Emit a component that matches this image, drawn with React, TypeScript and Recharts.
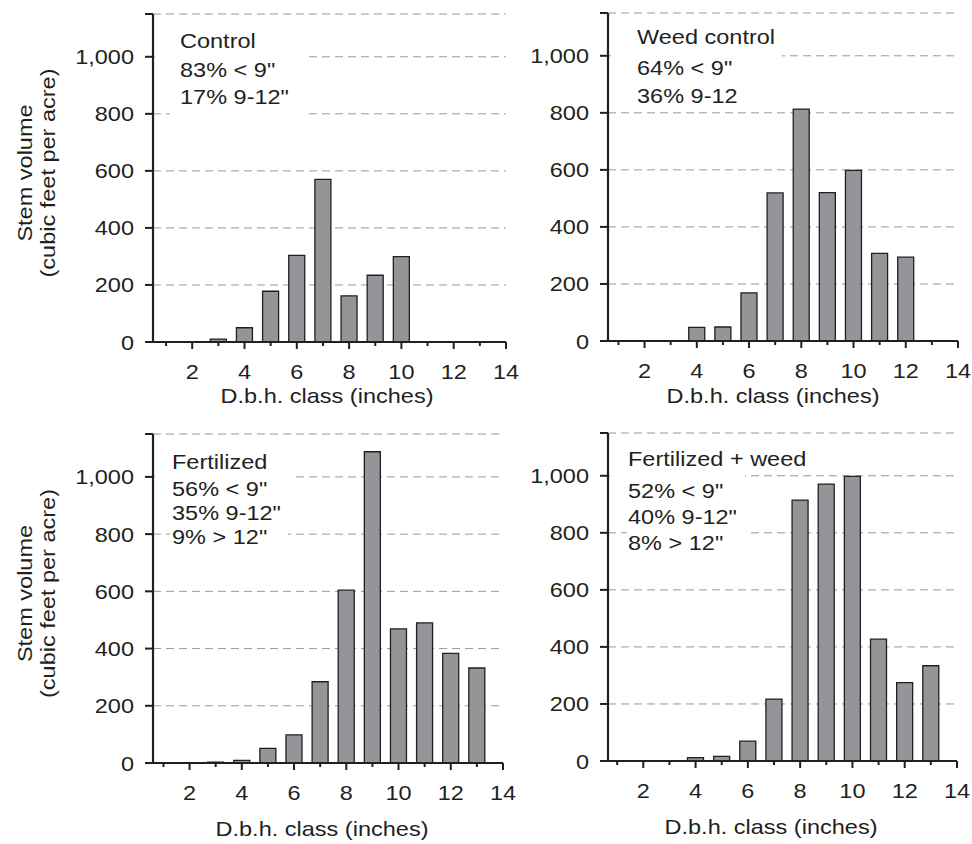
import React from 'react';
import { BarChart, Bar, XAxis, YAxis, CartesianGrid } from 'recharts';

// ---------- data ----------
const dbhClasses = [1, 2, 3, 4, 5, 6, 7, 8, 9, 10, 11, 12, 13];
const controlVolume = [0, 0, 10, 50, 178, 304, 570, 162, 234, 299, 0, 0, 0];
const weedControlVolume = [0, 0, 0, 48, 49, 169, 519, 813, 520, 598, 307, 294, 0];
const fertilizedVolume = [0, 0, 3, 9, 51, 98, 284, 604, 1088, 469, 490, 383, 332];
const fertWeedVolume = [0, 0, 0, 12, 16, 70, 217, 915, 971, 998, 427, 275, 334];

const xTicks = [1, 2, 3, 4, 5, 6, 7, 8, 9, 10, 11, 12, 13, 14];
const xTickLabels = ['', '2', '', '4', '', '6', '', '8', '', '10', '', '12', '', '14'];
const yTicks = [0, 200, 400, 600, 800, 1000, 1150];
const yTickLabels = ['0', '200', '400', '600', '800', '1,000', ''];

const panelNotes = [
  ['Control', '83% < 9"', '17% 9-12"'],
  ['Weed control', '64% < 9"', '36% 9-12'],
  ['Fertilized', '56% < 9"', '35% 9-12"', '9% > 12"'],
  ['Fertilized + weed', '52% < 9"', '40% 9-12"', '8% > 12"'],
];
const xAxisTitle = 'D.b.h. class (inches)';
const yAxisTitle = ['Stem volume', '(cubic feet per acre)'];

// ---------- style ----------
const INK = '#231f20';
const BAR_FILL = '#939598';
const GRID = '#999999';
const FONT = '"Liberation Sans", Arial, Helvetica, sans-serif';
const FS = 21;
const SX = 1.12;

// ---------- layout ----------
type Geo = {
  bx: number; by: number; bw: number; bh: number;
  axisX: number; plotTop: number; plotBottom: number; plotRight: number; xMin: number;
  noteX: number; noteBaselines: number[];
  boxes: { x: number; y: number; w: number; h: number }[];
  titleX: number; titleY: number;
  yTitle: boolean;
};

const geos: Geo[] = [
  {
    bx: 0, by: 0, bw: 520, bh: 422,
    axisX: 153, plotTop: 14, plotBottom: 342, plotRight: 506, xMin: 0.5,
    noteX: 180, noteBaselines: [48, 77, 104],
    boxes: [{ x: 155, y: 22, w: 152, h: 48 }, { x: 170, y: 70, w: 137, h: 52 }],
    titleX: 327, titleY: 403, yTitle: true,
  },
  {
    bx: 520, by: 0, bw: 452, bh: 422,
    axisX: 608, plotTop: 13, plotBottom: 341, plotRight: 958, xMin: 0.6,
    noteX: 637, noteBaselines: [44, 75, 103],
    boxes: [{ x: 611, y: 22, w: 171, h: 84 }],
    titleX: 773, titleY: 403, yTitle: false,
  },
  {
    bx: 0, by: 422, bw: 520, bh: 422,
    axisX: 153, plotTop: 434, plotBottom: 763, plotRight: 503, xMin: 0.6,
    noteX: 172, noteBaselines: [469, 496, 520, 544],
    boxes: [{ x: 155, y: 442, w: 137, h: 48 }, { x: 170, y: 490, w: 118, h: 60 }],
    titleX: 322, titleY: 836, yTitle: true,
  },
  {
    bx: 520, by: 422, bw: 452, bh: 422,
    axisX: 608, plotTop: 433, plotBottom: 761, plotRight: 957, xMin: 0.65,
    noteX: 628, noteBaselines: [466, 498, 524, 550],
    boxes: [{ x: 610, y: 441, w: 135, h: 49 }, { x: 627, y: 490, w: 119, h: 66 }],
    titleX: 771, titleY: 834, yTitle: false,
  },
];

const seriesList = [controlVolume, weedControlVolume, fertilizedVolume, fertWeedVolume];

const XTick = (props: any) => {
  const { x, y, payload } = props;
  const v = payload.value as number;
  const idx = xTicks.indexOf(v);
  const label = xTickLabels[idx] ?? '';
  const major = v % 2 === 0;
  return (
    <g>
      <line x1={x} x2={x} y1={y} y2={y + (major ? 7 : 4)} stroke={INK} strokeWidth={2} />
      {label !== '' && (
        <text
          transform={`translate(${x} ${y + 37}) scale(${SX} 1)`}
          textAnchor="middle"
          fontSize={FS}
          fontFamily={FONT}
          fill={INK}
        >
          {label}
        </text>
      )}
    </g>
  );
};

const YTick = (props: any) => {
  const { x, y, payload } = props;
  const v = payload.value as number;
  const idx = yTicks.indexOf(v);
  const label = yTickLabels[idx] ?? '';
  return (
    <g>
      <line x1={x - 8} x2={x} y1={y} y2={y} stroke={INK} strokeWidth={2} />
      {label !== '' && (
        <text
          transform={`translate(${x - 19} ${y + 7.5}) scale(${SX} 1)`}
          textAnchor="end"
          fontSize={FS}
          fontFamily={FONT}
          fill={INK}
        >
          {label}
        </text>
      )}
    </g>
  );
};

function Panel({ geo, values }: { geo: Geo; values: number[] }) {
  const data = dbhClasses.map((c, i) => ({ dbh: c, volume: values[i] }));
  const xAxisH = 50;
  const margin = {
    top: geo.plotTop - geo.by,
    right: geo.bx + geo.bw - geo.plotRight,
    left: 0,
    bottom: geo.by + geo.bh - geo.plotBottom - xAxisH,
  };
  return (
    <div style={{ position: 'absolute', left: geo.bx, top: geo.by, width: geo.bw, height: geo.bh }}>
      <BarChart width={geo.bw} height={geo.bh} data={data} margin={margin}>
        <CartesianGrid vertical={false} stroke={GRID} strokeDasharray="8 5" strokeWidth={1} />
        <XAxis
          dataKey="dbh"
          type="number"
          domain={[geo.xMin, 14]}
          allowDataOverflow
          ticks={xTicks}
          interval={0}
          height={xAxisH}
          tickSize={0}
          tickMargin={0}
          tickLine={false}
          axisLine={{ stroke: INK, strokeWidth: 2.2 }}
          tick={<XTick />}
        />
        <YAxis
          type="number"
          domain={[0, 1150]}
          allowDataOverflow
          ticks={yTicks}
          interval={0}
          width={geo.axisX - geo.bx}
          tickSize={0}
          tickMargin={0}
          tickLine={false}
          axisLine={{ stroke: INK, strokeWidth: 2.2 }}
          tick={<YTick />}
        />
        <Bar
          dataKey="volume"
          fill={BAR_FILL}
          stroke={INK}
          strokeWidth={1.3}
          barSize={16}
          isAnimationActive={false}
        />
      </BarChart>
    </div>
  );
}

export default function App() {
  return (
    <div style={{ position: 'absolute', left: 0, top: 0, width: 972, height: 844, background: '#ffffff' }}>
      {geos.map((g, i) => (
        <Panel key={i} geo={g} values={seriesList[i]} />
      ))}
      <svg
        width={972}
        height={844}
        style={{ position: 'absolute', left: 0, top: 0, pointerEvents: 'none' }}
      >
        {geos.map((g, i) => (
          <g key={i}>
            {g.boxes.map((b, j) => (
              <rect key={j} x={b.x} y={b.y} width={b.w} height={b.h} fill="#ffffff" />
            ))}
            {panelNotes[i].map((line, j) => (
              <text
                key={j}
                transform={`translate(${g.noteX} ${g.noteBaselines[j]}) scale(${SX} 1)`}
                fontSize={FS}
                fontFamily={FONT}
                fill={INK}
              >
                {line}
              </text>
            ))}
            <text
              transform={`translate(${g.titleX} ${g.titleY}) scale(${SX} 1)`}
              textAnchor="middle"
              fontSize={FS}
              fontFamily={FONT}
              fill={INK}
            >
              {xAxisTitle}
            </text>
            {g.yTitle &&
              yAxisTitle.map((t, j) => (
                <text
                  key={j}
                  transform={`translate(${32 + j * 23} ${(g.plotTop + g.plotBottom) / 2 - 5}) rotate(-90) scale(${SX} 1)`}
                  textAnchor="middle"
                  fontSize={FS}
                  fontFamily={FONT}
                  fill={INK}
                >
                  {t}
                </text>
              ))}
          </g>
        ))}
      </svg>
    </div>
  );
}
